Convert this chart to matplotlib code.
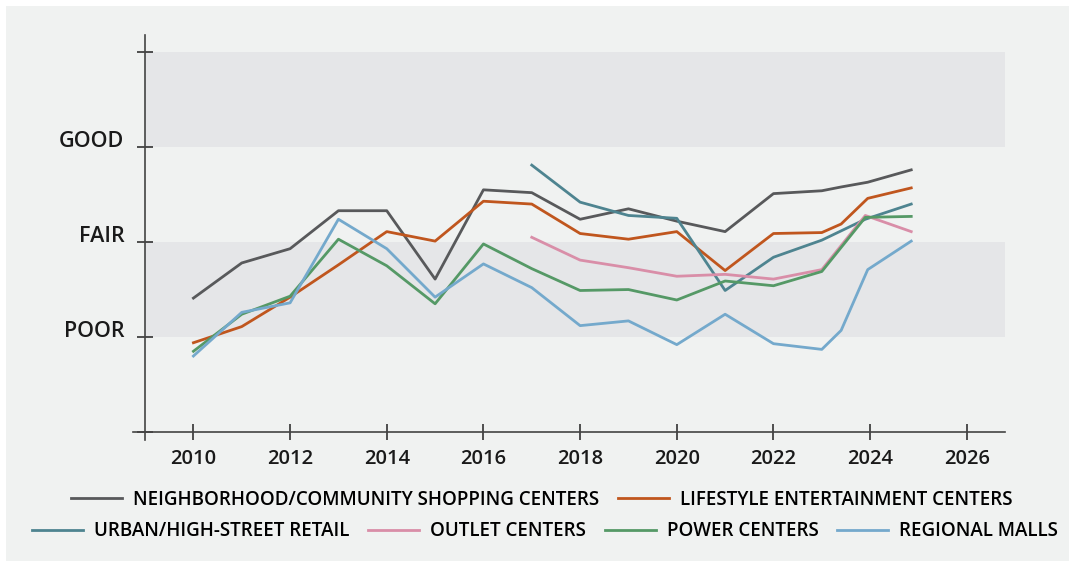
import matplotlib.pyplot as plt
from matplotlib.patches import Rectangle

plt.rcParams['font.family'] = ['Open Sans', 'DejaVu Sans']

# data (0 = bottom, 1 = POOR, 2 = FAIR, 3 = GOOD)
years_full = [2010, 2011, 2012, 2013, 2014, 2015, 2016, 2017, 2018, 2019, 2020, 2021, 2022, 2023, 2023.4, 2023.95, 2024.85]
years_late = [2017, 2018, 2019, 2020, 2021, 2022, 2023, 2023.9, 2024.85]
years_power = [2010, 2011, 2012, 2013, 2014, 2015, 2016, 2017, 2018, 2019, 2020, 2021, 2022, 2023, 2023.9, 2024.85]

neighborhood = [1.41, 1.78, 1.93, 2.33, 2.33, 1.61, 2.55, 2.52, 2.24, 2.35, 2.22, 2.11, 2.51, 2.54, 2.58, 2.63, 2.76]
lifestyle = [0.94, 1.11, 1.42, 1.76, 2.11, 2.01, 2.43, 2.40, 2.09, 2.03, 2.11, 1.70, 2.09, 2.10, 2.19, 2.46, 2.57]
urban = [2.81, 2.42, 2.28, 2.25, 1.49, 1.84, 2.02, 2.24, 2.40]
outlet = [2.05, 1.81, 1.73, 1.64, 1.66, 1.61, 1.71, 2.28, 2.11]
power = [0.85, 1.24, 1.43, 2.03, 1.75, 1.35, 1.98, 1.72, 1.49, 1.50, 1.39, 1.59, 1.54, 1.69, 2.26, 2.27]
regional = [0.80, 1.26, 1.36, 2.24, 1.93, 1.42, 1.77, 1.52, 1.12, 1.17, 0.92, 1.24, 0.93, 0.87, 1.07, 1.71, 2.01]

y_ticks = [0, 1, 2, 3, 4]
y_labels = ['', 'POOR', 'FAIR', 'GOOD', '']
x_ticks = list(range(2010, 2027, 2))

bg = '#f0f2f1'
band = '#e5e6e8'
axis_col = '#444444'

fig = plt.figure(figsize=(10.69, 5.61), dpi=100, facecolor='white')
# grey panel, white strip only along the top and left edge
fig.patches.append(Rectangle((6 / 1069, 0), 1, 555 / 561,
                             transform=fig.transFigure, facecolor=bg, edgecolor='none', zorder=-10))

ax = fig.add_axes([133 / 1069, 121 / 561, 872 / 1069, 405 / 561])
ax.set_facecolor('none')
x0, x1 = 2008.75, 2026.79
ax.set_xlim(x0, x1)
ax.set_ylim(-0.084, 4.18)

# shaded bands
for lo, hi in [(1, 2), (3, 4)]:
    ax.fill_between([2009, x1], lo, hi, color=band, lw=0, zorder=0)

lw = 2.0
ax.plot(years_full, neighborhood, color='#58595b', lw=lw, label='NEIGHBORHOOD/COMMUNITY SHOPPING CENTERS')
ax.plot(years_full, lifestyle, color='#c0561e', lw=lw, label='LIFESTYLE ENTERTAINMENT CENTERS')
ax.plot(years_late, urban, color='#4e8490', lw=lw, label='URBAN/HIGH-STREET RETAIL')
ax.plot(years_late, outlet, color='#d98ea8', lw=lw, label='OUTLET CENTERS')
ax.plot(years_power, power, color='#559966', lw=lw, label='POWER CENTERS')
ax.plot(years_full, regional, color='#74a9cc', lw=lw, label='REGIONAL MALLS')

for s in ['top', 'right']:
    ax.spines[s].set_visible(False)
ax.spines['left'].set_position(('data', 2009))
ax.spines['bottom'].set_position(('data', 0))
for s in ['left', 'bottom']:
    ax.spines[s].set_color(axis_col)
    ax.spines[s].set_linewidth(1.2)

ax.set_yticks(y_ticks)
ax.set_yticklabels(y_labels)
ax.set_xticks(x_ticks)
ax.tick_params(axis='both', direction='inout', length=12, width=1.1, color='#222222',
               labelsize=14.5, labelcolor='#1a1a1a')
ax.tick_params(axis='y', pad=9, labelsize=15.5)
ax.tick_params(axis='x', pad=6)
for lab in ax.get_yticklabels() + ax.get_xticklabels():
    lab.set_fontweight('semibold')
for lab in ax.get_yticklabels():
    lab.set_va('baseline')

h, l = ax.get_legend_handles_labels()
leg_kw = dict(frameon=False, handlelength=2.7, handletextpad=0.6,
              columnspacing=1.0, prop={'weight': 'semibold', 'size': 13.5})
fig.legend(h[:2], l[:2], ncol=2, loc='center', bbox_to_anchor=(0.507, 0.109), **leg_kw)
fig.legend(h[2:], l[2:], ncol=4, loc='center', bbox_to_anchor=(0.51, 0.053), **leg_kw)

fig.savefig('out.png', dpi=100, facecolor='white')
